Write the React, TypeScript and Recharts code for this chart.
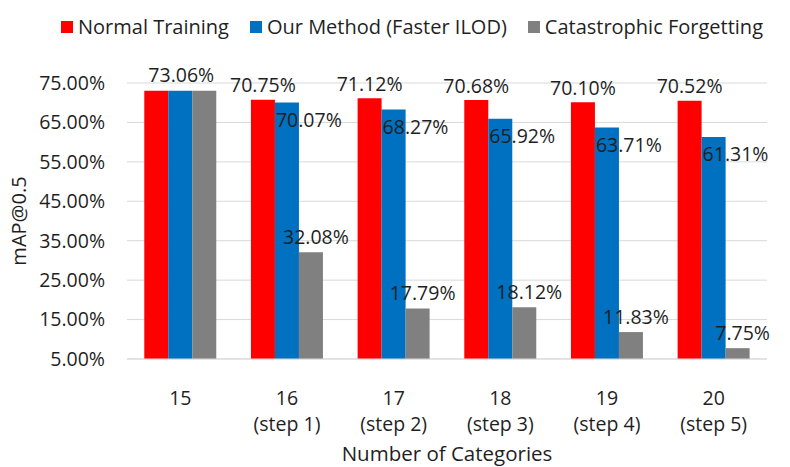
import React from "react";
import {
  BarChart,
  Bar,
  XAxis,
  YAxis,
  CartesianGrid,
  LabelList,
} from "recharts";

const categories = ["15", "16", "17", "18", "19", "20"];
const stepLabels = ["", "(step 1)", "(step 2)", "(step 3)", "(step 4)", "(step 5)"];
const normalTraining = [73.06, 70.75, 71.12, 70.68, 70.1, 70.52];
const ourMethod = [73.06, 70.07, 68.27, 65.92, 63.71, 61.31];
const forgetting = [73.06, 32.08, 17.79, 18.12, 11.83, 7.75];
const yTicks = [5, 15, 25, 35, 45, 55, 65, 75];

const series = [
  { key: "normal", name: "Normal Training", color: "#ff0000" },
  { key: "ours", name: "Our Method (Faster ILOD)", color: "#0070c0" },
  { key: "forget", name: "Catastrophic Forgetting", color: "#808080" },
];

const data = categories.map((c, i) => ({
  cat: c,
  step: stepLabels[i],
  normal: normalTraining[i],
  ours: ourMethod[i],
  forget: forgetting[i],
}));

const FONT = "'Open Sans', 'Noto Sans', sans-serif";
const INK = "#1f1f1f";
const fmt = (v: number) => `${v.toFixed(2)}%`;

// red: centered above the bar (skip first group, it shares one label)
function RedLabel(props: any) {
  const { x, y, width, value, index } = props;
  if (index === 0) return null;
  return (
    <text x={x + width / 2} y={y - 15} textAnchor="middle" dominantBaseline="central"
      fontFamily={FONT} fontSize={19.5} fill={INK}>
      {fmt(value)}
    </text>
  );
}

// blue: just under the bar top, running right; first group gets the shared label
function BlueLabel(props: any) {
  const { x, y, width, value, index } = props;
  if (index === 0) {
    return (
      <text x={x + width / 2 + 1} y={y - 16} textAnchor="middle" dominantBaseline="central"
        fontFamily={FONT} fontSize={19.5} fill={INK}>
        {fmt(value)}
      </text>
    );
  }
  return (
    <text x={x + 1} y={y + 17} textAnchor="start" dominantBaseline="central"
      fontFamily={FONT} fontSize={19.5} fill={INK}>
      {fmt(value)}
    </text>
  );
}

function GrayLabel(props: any) {
  const { x, y, width, value, index } = props;
  if (index === 0) return null;
  return (
    <text x={x + width / 2 + 5} y={y - 16} textAnchor="middle" dominantBaseline="central"
      fontFamily={FONT} fontSize={19.5} fill={INK}>
      {fmt(value)}
    </text>
  );
}

function CatTick(props: any) {
  const { x, y, payload, index } = props;
  const step = stepLabels[index] ?? data.find((d) => d.cat === payload.value)?.step;
  return (
    <g>
      <text x={x} y={y + 30} textAnchor="middle" dominantBaseline="central"
        fontFamily={FONT} fontSize={19.5} fill={INK}>
        {payload.value}
      </text>
      {step ? (
        <text x={x} y={y + 56} textAnchor="middle" dominantBaseline="central"
          fontFamily={FONT} fontSize={19.5} fill={INK}>
          {step}
        </text>
      ) : null}
    </g>
  );
}

export default function App() {
  return (
    <div style={{ position: "absolute", left: 0, top: 0, width: 790, height: 467, background: "#fff" }}>
      {/* legend */}
      <div
        style={{
          position: "absolute",
          top: 14,
          left: 61,
          display: "flex",
          alignItems: "center",
          fontFamily: FONT,
          fontSize: 20,
          color: INK,
          whiteSpace: "nowrap",
          lineHeight: "26px",
        }}
      >
        {series.map((s, i) => (
          <span key={s.key} style={{ display: "flex", alignItems: "center", marginRight: i < 2 ? 21 : 0 }}>
            <span style={{ width: 12, height: 12, background: s.color, display: "inline-block", marginRight: 5 }} />
            {s.name}
          </span>
        ))}
      </div>

      <BarChart
        width={790}
        height={467}
        data={data}
        margin={{ top: 83, right: 23, bottom: 0, left: 0 }}
        barCategoryGap="16.2%"
        barGap={0}
      >
        <CartesianGrid vertical={false} stroke="#d9d9d9" />
        <XAxis
          dataKey="cat"
          height={108}
          axisLine={{ stroke: "#d9d9d9" }}
          tickLine={false}
          tick={<CatTick />}
          interval={0}
        />
        <YAxis
          width={127}
          domain={[5, 75]}
          ticks={yTicks}
          tickFormatter={fmt}
          axisLine={false}
          tickLine={false}
          tickSize={0}
          tickMargin={22}
          tick={{ fontFamily: FONT, fontSize: 19.5, fill: INK }}
        />
        <Bar dataKey="normal" fill="#ff0000" isAnimationActive={false}>
          <LabelList dataKey="normal" content={<RedLabel />} />
        </Bar>
        <Bar dataKey="ours" fill="#0070c0" isAnimationActive={false}>
          <LabelList dataKey="ours" content={<BlueLabel />} />
        </Bar>
        <Bar dataKey="forget" fill="#808080" isAnimationActive={false}>
          <LabelList dataKey="forget" content={<GrayLabel />} />
        </Bar>
        <text x={447} y={453} textAnchor="middle" dominantBaseline="central"
          fontFamily={FONT} fontSize={20.5} fill={INK}>
          Number of Categories
        </text>
        <text x={18} y={221} textAnchor="middle" dominantBaseline="central"
          transform="rotate(-90 18 221)" fontFamily={FONT} fontSize={20} fill={INK}>
          mAP@0.5
        </text>
      </BarChart>
    </div>
  );
}
